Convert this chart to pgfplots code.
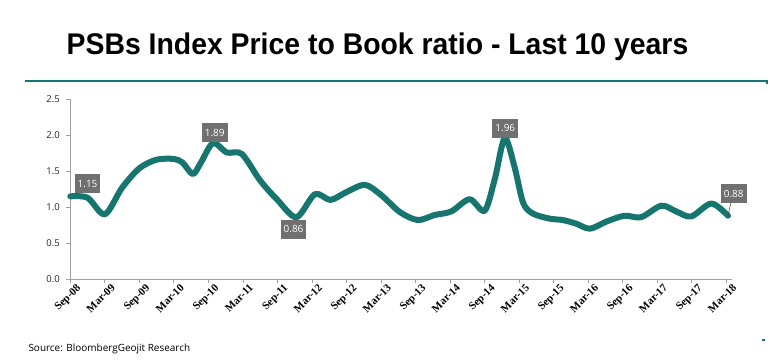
\documentclass[border=0pt]{standalone}
\usepackage{pgfplots}
\pgfplotsset{compat=1.18}
\usepackage{fontspec}
\setmainfont{Liberation Sans}
\newfontfamily\titlefont[FakeStretch=0.95]{Liberation Sans}
\newfontfamily\tickserif{Liberation Serif}
\newfontfamily\ticksans{Open Sans}
\newfontfamily\srcfont{Open Sans}
\definecolor{teal1}{RGB}{22,117,110}
\definecolor{lblgray}{RGB}{112,112,112}
\definecolor{axgray}{RGB}{160,160,160}
\begin{document}
\begin{tikzpicture}[x=1bp,y=1bp]
\path (0,0) rectangle (774,361);
\node[font=\titlefont\bfseries\fontsize{30}{32}\selectfont, anchor=center] at (377.5,314) {PSBs Index Price to Book ratio - Last 10 years};
\draw[teal1, line width=2.2bp] (25,280) -- (767,280);
\draw[teal1, line width=1.5bp] (767,281) -- (767,277);
\node[font=\srcfont\fontsize{10}{11}\selectfont, anchor=west] at (25,12) {Source: BloombergGeojit Research};
\fill[teal1] (762,20) rectangle (764.5,22.5);
\begin{axis}[
  at={(70.3bp,82bp)}, anchor=south west,
  scale only axis, width=661.7bp, height=179.7bp,
  xmin=0, xmax=115, ymin=0, ymax=2.5,
  clip=false,
  axis x line*=bottom, axis y line*=left,
  axis line style={axgray, line width=0.8bp, -},
  xtick={0,6,...,114},
  xticklabels={Sep-08,Mar-09,Sep-09,Mar-10,Sep-10,Mar-11,Sep-11,Mar-12,Sep-12,Mar-13,Sep-13,Mar-14,Sep-14,Mar-15,Sep-15,Mar-16,Sep-16,Mar-17,Sep-17,Mar-18},
  ytick={0,0.5,...,2.5},
  yticklabel style={/pgf/number format/fixed, /pgf/number format/fixed zerofill, /pgf/number format/precision=1, /pgf/number format/assume math mode=true},
  yticklabel style={font=\ticksans\fontsize{9.5}{10}\selectfont, text=black!85, xshift=-3bp},
  xticklabel style={font=\tickserif\bfseries\fontsize{11}{12}\selectfont, rotate=45, anchor=north east, xshift=5bp, yshift=-3bp, inner sep=1bp},
  tick style={axgray, line width=0.8bp},
  tick align=outside,
  major tick length=4bp,
]
\addplot[teal1, line width=6bp, smooth, tension=0.5, line cap=round, line join=round] coordinates {
(0,1.15) (3,1.13) (6,0.90) (9,1.27) (12,1.54) (15,1.66) (18,1.67) (19.5,1.62)
(21.3,1.46) (22.7,1.62) (24.8,1.89) (27.2,1.76) (29.8,1.74) (33,1.37) (36,1.10)
(39.3,0.86) (42.5,1.18) (45.2,1.10) (48,1.21) (51.2,1.31) (54,1.17) (57.3,0.93)
(60.4,0.82) (63.3,0.89) (66.2,0.94) (69.4,1.11) (72,0.95) (73.8,1.40) (75.5,1.96)
(77.2,1.56) (78.7,1.06) (80.4,0.91) (83.3,0.84) (85.6,0.82) (87.9,0.77) (90.3,0.70)
(93.2,0.80) (96.3,0.88) (99.2,0.86) (102.7,1.02) (105.3,0.94) (107.9,0.87)
(111.4,1.05) (114.3,0.88)
};
\tikzset{lbl/.style={fill=lblgray, text=white, font=\ticksans\fontsize{10}{11}\selectfont, inner xsep=3bp, inner ysep=3bp, minimum height=19bp}}
\node[lbl] at (axis cs:3.0,1.325) {1.15};
\node[lbl] at (axis cs:25.1,2.036) {1.89};
\node[lbl] at (axis cs:38.8,0.69) {0.86};
\node[lbl] at (axis cs:75.6,2.095) {1.96};
\draw[black!70, line width=0.6bp] (axis cs:114.8,1.06) -- (axis cs:114.3,0.88);
\node[lbl] at (axis cs:115.3,1.19) {0.88};
\end{axis}
\end{tikzpicture}
\end{document}
